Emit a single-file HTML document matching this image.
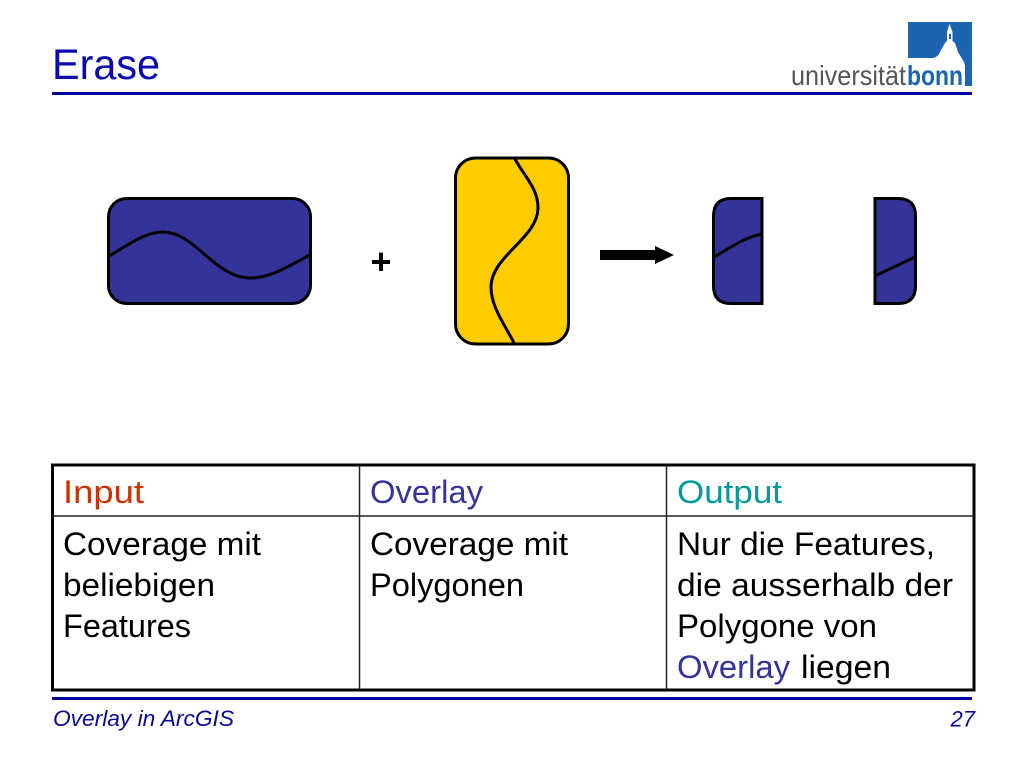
<!DOCTYPE html>
<html>
<head>
<meta charset="utf-8">
<style>
html,body{margin:0;padding:0;background:#fff;width:1024px;height:768px;overflow:hidden}
svg{display:block}
text{font-family:"Liberation Sans",sans-serif}
.t{font-size:32px;fill:#000}
</style>
</head>
<body>
<svg width="1024" height="768" viewBox="0 0 1024 768" xmlns="http://www.w3.org/2000/svg">
<rect width="1024" height="768" fill="#fff"/>
<!-- Header -->
<text x="52" y="79" font-size="43" fill="#0a0ab0" textLength="108" lengthAdjust="spacingAndGlyphs">Erase</text>
<rect x="52" y="92" width="920" height="3" fill="#0000a0"/>
<!-- Logo -->
<rect x="908" y="22" width="64" height="36" fill="#1a64b0"/>
<rect x="934" y="22" width="38" height="64" fill="#1a64b0"/>
<path d="M933 58Q938 57 940 52L945 43L947 41V32L949.500 24L952.500 32V41L955 43L958 52L964 62L965 65V87H930V58Z" fill="#fff"/>
<rect x="949" y="34" width="2" height="5" fill="#1a64b0"/>
<text x="791" y="85" font-size="28" fill="#555" textLength="115" lengthAdjust="spacingAndGlyphs">universität</text>
<text x="907" y="85" font-size="28" font-weight="bold" fill="#1a64b0" textLength="56" lengthAdjust="spacingAndGlyphs">bonn</text>
<!-- Input shape -->
<rect x="108.500" y="198.500" width="202" height="105" rx="18" fill="#333399" stroke="#000" stroke-width="3"/>
<path d="M109 256C130 244 145 232 163 232C195 232 215 278 250 278C272 278 290 265 310 255" fill="none" stroke="#000" stroke-width="3"/>
<!-- Plus -->
<text x="381" y="274" font-size="36" font-weight="bold" text-anchor="middle" fill="#000">+</text>
<!-- Overlay shape -->
<rect x="455.500" y="158" width="113" height="186" rx="20" fill="#ffcc00" stroke="#000" stroke-width="3"/>
<path d="M515 159C524 176 538 188 538 208C538 238 491 256 491 287C491 307 505 325 514 343" fill="none" stroke="#000" stroke-width="3"/>
<!-- Arrow -->
<rect x="600" y="250" width="56" height="10" fill="#000"/>
<path d="M655 246L674 255L655 264Z" fill="#000"/>
<!-- Output shapes -->
<path d="M762 198.500V303.500H731Q713.500 303.500 713.500 286V216Q713.500 198.500 731 198.500Z" fill="#333399" stroke="#000" stroke-width="3"/>
<path d="M714 257C730 248 745 237 762 234" fill="none" stroke="#000" stroke-width="3"/>
<path d="M875 198.500V303.500H898Q915.500 303.500 915.500 286V216Q915.500 198.500 898 198.500Z" fill="#333399" stroke="#000" stroke-width="3"/>
<path d="M875 276L915 257" fill="none" stroke="#000" stroke-width="3"/>
<!-- Table -->
<rect x="52.500" y="465" width="921.500" height="225" fill="#fff" stroke="#000" stroke-width="3"/>
<path d="M52 516H974M359.500 465V690M666.500 465V690" stroke="#222" stroke-width="1.500" fill="none"/>
<text class="t" x="63" y="503" style="fill:#cc3300" textLength="81" lengthAdjust="spacingAndGlyphs">Input</text>
<text class="t" x="370" y="503" style="fill:#333399" textLength="113" lengthAdjust="spacingAndGlyphs">Overlay</text>
<text class="t" x="677" y="503" style="fill:#009999" textLength="105" lengthAdjust="spacingAndGlyphs">Output</text>
<text class="t" x="63" y="555" textLength="198" lengthAdjust="spacingAndGlyphs">Coverage mit</text>
<text class="t" x="63" y="596" textLength="152" lengthAdjust="spacingAndGlyphs">beliebigen</text>
<text class="t" x="63" y="637" textLength="128" lengthAdjust="spacingAndGlyphs">Features</text>
<text class="t" x="370" y="555" textLength="198" lengthAdjust="spacingAndGlyphs">Coverage mit</text>
<text class="t" x="370" y="596" textLength="154" lengthAdjust="spacingAndGlyphs">Polygonen</text>
<text class="t" x="677" y="555" textLength="258" lengthAdjust="spacingAndGlyphs">Nur die Features,</text>
<text class="t" x="677" y="596" textLength="276" lengthAdjust="spacingAndGlyphs">die ausserhalb der</text>
<text class="t" x="677" y="637" textLength="200" lengthAdjust="spacingAndGlyphs">Polygone von</text>
<text class="t" x="677" y="678" style="fill:#333399" textLength="113" lengthAdjust="spacingAndGlyphs">Overlay</text>
<text class="t" x="801" y="678" textLength="90" lengthAdjust="spacingAndGlyphs">liegen</text>
<!-- Footer -->
<rect x="52" y="697" width="920" height="3" fill="#0000a0"/>
<text x="53" y="726" font-size="22" font-style="italic" fill="#0a0a9a" textLength="181" lengthAdjust="spacingAndGlyphs">Overlay in ArcGIS</text>
<text x="975" y="726.500" font-size="22" font-style="italic" fill="#0a0a9a" text-anchor="end">27</text>
</svg>
</body>
</html>
